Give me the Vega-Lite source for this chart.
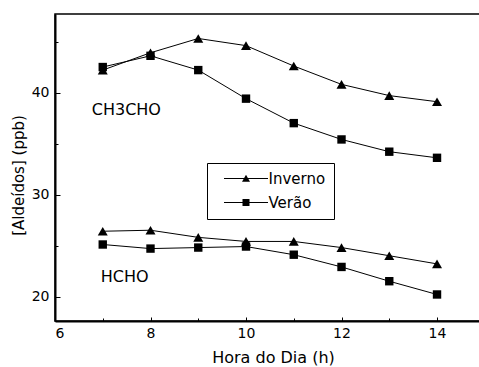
{
  "$schema": "https://vega.github.io/schema/vega-lite/v6.json",
  "width": 425,
  "height": 307,
  "autosize": {"type": "none"},
  "padding": {"left": 55, "top": 14, "right": 0, "bottom": 46},
  "background": "white",
  "config": {
    "font": "DejaVu Sans",
    "view": {"stroke": "black", "strokeWidth": 1.5},
    "axis": {
      "domainColor": "black",
      "domainWidth": 2,
      "tickColor": "black",
      "tickWidth": 1,
      "grid": false,
      "labelColor": "black",
      "labelFont": "DejaVu Sans",
      "labelFontSize": 14,
      "titleColor": "black",
      "titleFont": "DejaVu Sans",
      "titleFontWeight": "normal"
    }
  },
  "datasets": {
    "medidas": [
      {"hora": 7, "composto": "CH3CHO", "estacao": "Inverno", "valor": 42.2},
      {"hora": 8, "composto": "CH3CHO", "estacao": "Inverno", "valor": 43.9},
      {"hora": 9, "composto": "CH3CHO", "estacao": "Inverno", "valor": 45.3},
      {"hora": 10, "composto": "CH3CHO", "estacao": "Inverno", "valor": 44.6},
      {"hora": 11, "composto": "CH3CHO", "estacao": "Inverno", "valor": 42.6},
      {"hora": 12, "composto": "CH3CHO", "estacao": "Inverno", "valor": 40.8},
      {"hora": 13, "composto": "CH3CHO", "estacao": "Inverno", "valor": 39.7},
      {"hora": 14, "composto": "CH3CHO", "estacao": "Inverno", "valor": 39.1},
      {"hora": 7, "composto": "CH3CHO", "estacao": "Verão", "valor": 42.5},
      {"hora": 8, "composto": "CH3CHO", "estacao": "Verão", "valor": 43.6},
      {"hora": 9, "composto": "CH3CHO", "estacao": "Verão", "valor": 42.2},
      {"hora": 10, "composto": "CH3CHO", "estacao": "Verão", "valor": 39.4},
      {"hora": 11, "composto": "CH3CHO", "estacao": "Verão", "valor": 37.0},
      {"hora": 12, "composto": "CH3CHO", "estacao": "Verão", "valor": 35.4},
      {"hora": 13, "composto": "CH3CHO", "estacao": "Verão", "valor": 34.2},
      {"hora": 14, "composto": "CH3CHO", "estacao": "Verão", "valor": 33.6},
      {"hora": 7, "composto": "HCHO", "estacao": "Inverno", "valor": 26.4},
      {"hora": 8, "composto": "HCHO", "estacao": "Inverno", "valor": 26.5},
      {"hora": 9, "composto": "HCHO", "estacao": "Inverno", "valor": 25.8},
      {"hora": 10, "composto": "HCHO", "estacao": "Inverno", "valor": 25.4},
      {"hora": 11, "composto": "HCHO", "estacao": "Inverno", "valor": 25.4},
      {"hora": 12, "composto": "HCHO", "estacao": "Inverno", "valor": 24.8},
      {"hora": 13, "composto": "HCHO", "estacao": "Inverno", "valor": 24.0},
      {"hora": 14, "composto": "HCHO", "estacao": "Inverno", "valor": 23.2},
      {"hora": 7, "composto": "HCHO", "estacao": "Verão", "valor": 25.1},
      {"hora": 8, "composto": "HCHO", "estacao": "Verão", "valor": 24.7},
      {"hora": 9, "composto": "HCHO", "estacao": "Verão", "valor": 24.8},
      {"hora": 10, "composto": "HCHO", "estacao": "Verão", "valor": 24.9},
      {"hora": 11, "composto": "HCHO", "estacao": "Verão", "valor": 24.1},
      {"hora": 12, "composto": "HCHO", "estacao": "Verão", "valor": 22.9},
      {"hora": 13, "composto": "HCHO", "estacao": "Verão", "valor": 21.5},
      {"hora": 14, "composto": "HCHO", "estacao": "Verão", "valor": 20.2}
    ],
    "rotulos": [
      {"hora": 6.77, "valor": 38.3, "rotulo": "CH3CHO"},
      {"hora": 6.96, "valor": 21.96, "rotulo": "HCHO"}
    ]
  },
  "resolve": {
    "axis": {"x": "independent", "y": "independent"},
    "scale": {"shape": "independent"}
  },
  "layer": [
    {
      "data": {"name": "medidas"},
      "mark": {"type": "line", "color": "black", "strokeWidth": 1},
      "encoding": {
        "x": {
          "field": "hora", "type": "quantitative",
          "scale": {"domain": [6, 14.9], "nice": false, "zero": false},
          "axis": {
            "orient": "bottom",
            "values": [6, 8, 10, 12, 14],
            "tickSize": -4,
            "labelPadding": 9,
            "title": "Hora do Dia (h)",
            "titleFontSize": 16,
            "titleX": 218,
            "titleY": 41,
            "titleBaseline": "alphabetic"
          }
        },
        "y": {
          "field": "valor", "type": "quantitative",
          "scale": {"domain": [17.6, 47.7], "nice": false, "zero": false},
          "axis": {
            "orient": "left",
            "values": [20, 30, 40],
            "tickSize": -5,
            "labelPadding": 11,
            "title": "[Aldeídos] (ppb)",
            "titleFontSize": 15,
            "titleX": -37,
            "titleY": 161,
            "titleBaseline": "middle"
          }
        },
        "detail": [{"field": "composto"}, {"field": "estacao"}]
      }
    },
    {
      "data": {"name": "medidas"},
      "mark": {"type": "point", "filled": true, "color": "black", "opacity": 1, "size": 100},
      "encoding": {
        "x": {"field": "hora", "type": "quantitative", "axis": null},
        "y": {"field": "valor", "type": "quantitative", "axis": null},
        "shape": {
          "field": "estacao", "type": "nominal",
          "scale": {"domain": ["Inverno", "Verão"], "range": ["triangle-up", "M-0.84,-0.84H0.84V0.84H-0.84Z"]},
          "legend": null
        }
      }
    },
    {
      "data": {"name": "medidas"},
      "mark": {"type": "point", "filled": true, "color": "black", "opacity": 0, "size": 100},
      "encoding": {
        "x": {"field": "hora", "type": "quantitative", "axis": null},
        "y": {"field": "valor", "type": "quantitative", "axis": null},
        "shape": {
          "field": "estacao", "type": "nominal",
          "scale": {
            "domain": ["Inverno", "Verão"],
            "range": [
              "M-4.4,-0.1H4.4V0.1H-4.4ZM0,-0.75L0.8,0.65H-0.8Z",
              "M-4.4,-0.1H4.4V0.1H-4.4ZM-0.7,-0.7H0.7V0.7H-0.7Z"
            ]
          },
          "legend": {
            "orient": "none",
            "legendX": 152,
            "legendY": 149,
            "title": null,
            "strokeColor": "black",
            "padding": 8,
            "labelFont": "DejaVu Sans",
            "labelFontSize": 15,
            "labelColor": "black",
            "labelExpr": "datum.label + '\u00a0\u00a0'",
            "symbolSize": 100,
            "symbolOffset": 23.5,
            "labelOffset": 15,
            "rowPadding": 8,
            "symbolOpacity": 1,
            "symbolFillColor": "black",
            "symbolStrokeColor": "black",
            "symbolStrokeWidth": 0
          }
        }
      }
    },
    {
      "data": {"name": "rotulos"},
      "mark": {"type": "text", "align": "left", "baseline": "middle", "fontSize": 16, "color": "black", "font": "DejaVu Sans"},
      "encoding": {
        "x": {
          "field": "hora", "type": "quantitative",
          "axis": {"orient": "bottom", "values": [7, 9, 11, 13], "tickSize": -3, "labels": false, "domain": false, "title": null}
        },
        "y": {
          "field": "valor", "type": "quantitative",
          "axis": {"orient": "left", "values": [25, 35, 45], "tickSize": -3, "labels": false, "domain": false, "title": null}
        },
        "text": {"field": "rotulo"}
      }
    }
  ]
}
